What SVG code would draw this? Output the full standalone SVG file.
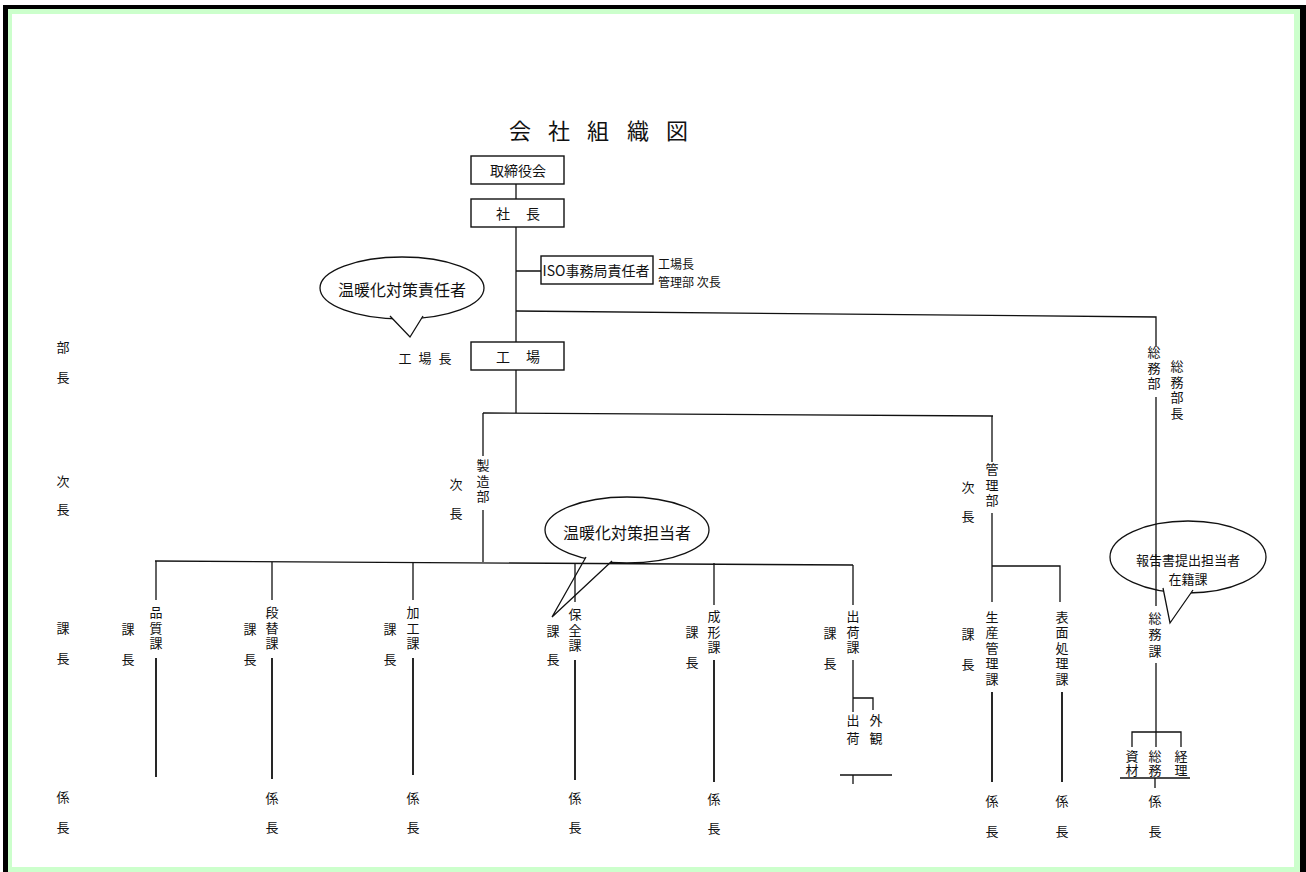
<svg xmlns="http://www.w3.org/2000/svg" width="1306" height="872" viewBox="0 0 1306 872">
<style>
  text { font-family: "Noto Sans CJK JP", "Noto Sans", sans-serif; fill: #111; text-anchor: middle; dominant-baseline: central; }
  .t12 { font-size: 12px; }
  .t13 { font-size: 13px; }
  .t14 { font-size: 14px; }
  .t16 { font-size: 16px; }
  .title { font-size: 22px; }
  .v { writing-mode: vertical-rl; font-size: 13px; letter-spacing: 2.5px; }
  .v5 { letter-spacing: 5px; }
  .v1 { letter-spacing: 1px; }
  .v35 { letter-spacing: 3.5px; }
  .box { fill: #fff; stroke: #111; stroke-width: 1.4; }
  .ln { fill: none; stroke: #111; stroke-width: 1.3; }
  .lnb { fill: none; stroke: #111; stroke-width: 1.8; }
  .bub { fill: #fff; stroke: #111; stroke-width: 1.3; }
</style>
<rect x="3" y="5" width="1303" height="870" fill="#000"/>
<rect x="8" y="9" width="1292" height="866" fill="#ccffcc"/>
<rect x="12" y="14" width="1282" height="853" fill="#fff"/>

<g id="title"><text class="title" x="520 559 598 638 677" y="129">会社組織図</text></g>

<g id="levels" class="t13">
  <text x="63" y="346">部</text><text x="63" y="376">長</text>
  <text x="63" y="480">次</text><text x="63" y="508">長</text>
  <text x="63" y="627">課</text><text x="63" y="657">長</text>
  <text x="63" y="796">係</text><text x="63" y="826">長</text>
</g>

<g id="bubbles">
  <g id="bubble-sekinin">
    <ellipse class="bub" cx="402" cy="288" rx="82" ry="31"/>
    <path class="bub" d="M390,316 L410,337 L423,316"/>
    <text class="t16" x="402" y="289">温暖化対策責任者</text>
  </g>
  <g id="bubble-tanto">
    <ellipse class="bub" cx="627" cy="530" rx="82" ry="33"/>
    <path class="bub" d="M586,557 L552,617 L612,561"/>
    <text class="t16" x="627" y="532">温暖化対策担当者</text>
  </g>
  <g id="bubble-hokoku">
    <ellipse class="bub" cx="1188" cy="557" rx="78" ry="36"/>
    <path class="bub" d="M1163,588 L1170,623 L1193,590"/>
  </g>
</g>

<g id="connectors">
  <path class="ln" d="M516,184 V199 M516,227 V343 M516,271 H541 M516,370 V413"/>
  <path class="ln" d="M516,311 L1156,317 V347 M1156,397 V606 M1156,663 V747"/>
  <path class="ln" d="M1132,747 V732 H1181 V747 M1120,778 H1190 M1155,778 V788"/>
  <path class="ln" d="M483,413 L993,416"/>
  <path class="ln" d="M483,413 V456 M483,510 V562"/>
  <path class="ln" d="M992,416 V462 M992,513 V602 M992,566 H1060 V602"/>
  <path class="lnb" d="M992,692 V782 M1062,692 V782"/>
  <path class="ln" d="M155,561 L853,565"/>
  <path class="ln" d="M156,561 V600 M272,562 V600 M413,562 V600 M575,563 V602 M714,563 V605 M853,565 V605"/>
  <path class="lnb" d="M156,658 V777 M272,658 V779 M413,658 V775 M575,660 V780 M714,660 V782"/>
  <path class="ln" d="M853,660 V712 M853,698 H873 V710 M840,775 H892 M853,775 V784"/>
</g>

<g id="hokoku-text">
  <text class="t13" x="1188" y="559">報告書提出担当者</text>
  <text class="t13" x="1188" y="578">在籍課</text>
</g>

<g id="torishimariyaku"><rect class="box" x="471" y="156" width="93" height="28"/><text class="t14" x="518" y="170">取締役会</text></g>
<g id="shacho"><rect class="box" x="471" y="199" width="93" height="28"/><text class="t14" x="503" y="213">社</text><text class="t14" x="533" y="213">長</text></g>
<g id="iso"><rect class="box" x="541" y="256" width="112" height="28"/><text class="t14" x="596" y="270">ISO事務局責任者</text>
  <text class="t12" x="658" y="263" style="text-anchor:start">工場長</text>
  <text class="t12" x="658" y="281" style="text-anchor:start">管理部 次長</text></g>
<g id="kojo"><rect class="box" x="471" y="342" width="93" height="28"/><text class="t14" x="503" y="356">工</text><text class="t14" x="533" y="356">場</text>
  <text class="t13" x="405 425 445" y="357">工場長</text></g>

<g id="seizobu" class="t13">
  <text class="v" x="483" y="482">製造部</text>
  <text x="456" y="483">次</text><text x="456" y="512">長</text>
</g>
<g id="kanribu" class="t13">
  <text class="v" x="992" y="486">管理部</text>
  <text x="968" y="486">次</text><text x="968" y="515">長</text>
</g>
<g id="somubu" class="t13">
  <text class="v" x="1154" y="369">総務部</text>
  <text class="v" x="1177" y="391">総務部長</text>
</g>

<g id="hinshitsu" class="t13">
  <text class="v" x="156" y="629">品質課</text>
  <text x="128" y="628">課</text><text x="128" y="658">長</text>
</g>
<g id="dangae" class="t13">
  <text class="v" x="272" y="629">段替課</text>
  <text x="250" y="628">課</text><text x="250" y="658">長</text>
  <text x="272" y="797">係</text><text x="272" y="826">長</text>
</g>
<g id="kako" class="t13">
  <text class="v" x="413" y="629">加工課</text>
  <text x="390" y="628">課</text><text x="390" y="658">長</text>
  <text x="413" y="797">係</text><text x="413" y="826">長</text>
</g>
<g id="hozen" class="t13">
  <text class="v" x="575" y="631">保全課</text>
  <text x="553" y="630">課</text><text x="553" y="658">長</text>
  <text x="575" y="797">係</text><text x="575" y="826">長</text>
</g>
<g id="seikei" class="t13">
  <text class="v" x="714" y="633">成形課</text>
  <text x="692" y="631">課</text><text x="692" y="661">長</text>
  <text x="714" y="798">係</text><text x="714" y="827">長</text>
</g>
<g id="shukka" class="t13">
  <text class="v" x="853" y="633">出荷課</text>
  <text x="830" y="632">課</text><text x="830" y="662">長</text>
  <text class="v v5" x="853" y="732">出荷</text>
  <text class="v v5" x="876" y="732">外観</text>
</g>
<g id="seisankanri" class="t13">
  <text class="v" x="992" y="649">生産管理課</text>
  <text x="968" y="633">課</text><text x="968" y="663">長</text>
  <text x="992" y="800">係</text><text x="992" y="830">長</text>
</g>
<g id="hyomen" class="t13">
  <text class="v" x="1062" y="649">表面処理課</text>
  <text x="1062" y="800">係</text><text x="1062" y="830">長</text>
</g>
<g id="somuka" class="t13">
  <text class="v v35" x="1155" y="636">総務課</text>
  <text class="v v1" x="1132" y="764">資材</text>
  <text class="v v1" x="1155" y="764">総務</text>
  <text class="v v1" x="1181" y="764">経理</text>
  <text x="1155" y="800">係</text><text x="1155" y="830">長</text>
</g>
</svg>
